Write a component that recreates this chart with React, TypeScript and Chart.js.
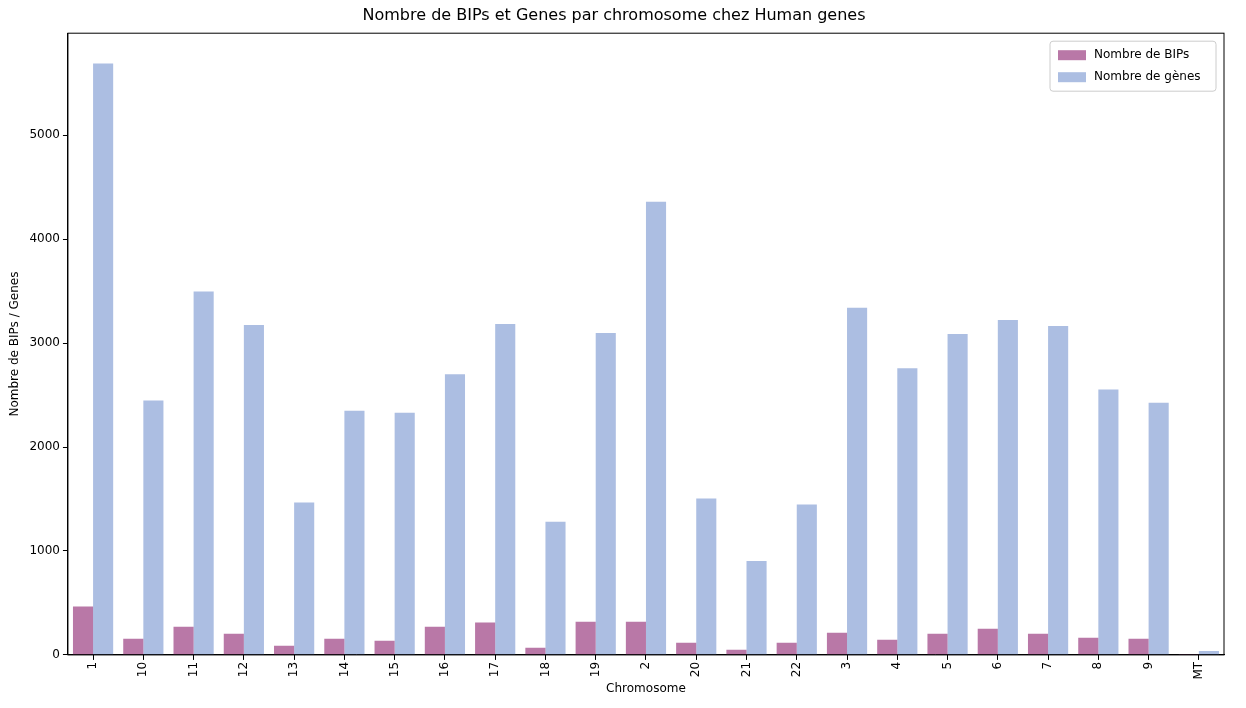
import { Chart, registerables } from 'chart.js';
import { useEffect, useRef } from 'react';

Chart.register(...registerables);

const chromosomes = ['1', '10', '11', '12', '13', '14', '15', '16', '17', '18', '19', '2', '20', '21', '22', '3', '4', '5', '6', '7', '8', '9', 'MT'];
const bips = [466, 155, 272, 204, 87, 155, 136, 272, 311, 68, 320, 320, 116, 49, 116, 214, 146, 204, 252, 204, 165, 155, 10];
const genes = [5690, 2447, 3495, 3175, 1466, 2350, 2330, 2700, 3184, 1282, 3097, 4359, 1505, 903, 1447, 3340, 2757, 3087, 3223, 3165, 2553, 2427, 37];
const yTicks = [0, 1000, 2000, 3000, 4000, 5000];

const frame = {
  id: 'frame',
  afterDraw(chart: any) {
    const { ctx, chartArea: a } = chart;
    ctx.save();
    ctx.strokeStyle = '#000';
    ctx.lineWidth = 1;
    ctx.strokeRect(a.left, a.top, a.right - a.left, a.bottom - a.top);
    // legend box, top right inside plot
    const w = 166, h = 50;
    const x = a.right - w - 8, y = a.top + 8;
    ctx.fillStyle = 'rgba(255,255,255,0.8)';
    ctx.strokeStyle = '#ccc';
    ctx.beginPath();
    ctx.roundRect(x, y, w, h, 3);
    ctx.fill();
    ctx.stroke();
    ctx.font = '12px "DejaVu Sans"';
    ctx.textBaseline = 'middle';
    chart.data.datasets.forEach((d: any, i: number) => {
      const yy = y + 14 + i * 22;
      ctx.fillStyle = d.backgroundColor;
      ctx.fillRect(x + 8, yy - 5, 28, 10);
      ctx.fillStyle = '#000';
      ctx.fillText(d.label, x + 44, yy);
    });
    ctx.restore();
  },
};

export default function App() {
  const ref = useRef<HTMLCanvasElement>(null);

  useEffect(() => {
    Chart.defaults.font.family = 'DejaVu Sans';
    Chart.defaults.color = '#000';
    const chart = new Chart(ref.current!, {
      type: 'bar',
      data: {
        labels: chromosomes,
        datasets: [
          { label: 'Nombre de BIPs', data: bips, backgroundColor: 'rgba(162,75,137,0.75)', categoryPercentage: 0.8, barPercentage: 1 },
          { label: 'Nombre de gènes', data: genes, backgroundColor: 'rgba(128,155,210,0.65)', categoryPercentage: 0.8, barPercentage: 1 },
        ],
      },
      options: {
        animation: false,
        responsive: false,
        layout: { padding: { left: 4, right: 22, top: 2, bottom: 12 } },
        plugins: {
          title: { display: true, text: 'Nombre de BIPs et Genes par chromosome chez Human genes', font: { size: 16, weight: 'normal' }, padding: { top: 4, bottom: 8 } },
          legend: { display: false },
          tooltip: { enabled: false },
        },
        scales: {
          x: {
            offset: true,
            grid: { display: true, drawOnChartArea: false, drawTicks: true, tickLength: 5, color: '#000', offset: false },
            border: { color: '#000' },
            ticks: { maxRotation: 90, minRotation: 90, font: { size: 12 }, padding: 2 },
            title: { display: true, text: 'Chromosome', font: { size: 12 }, padding: 0 },
          },
          y: {
            min: 0,
            max: 5981,
            grid: { display: true, drawOnChartArea: false, drawTicks: true, tickLength: 5, color: '#000' },
            border: { color: '#000' },
            afterBuildTicks: (s: any) => { s.ticks = yTicks.map((v) => ({ value: v })); },
            ticks: { font: { size: 12 }, callback: (v: any) => String(v) },
            title: { display: true, text: 'Nombre de BIPs / Genes', font: { size: 12 } },
          },
        },
      },
      plugins: [frame],
    });
    return () => chart.destroy();
  }, []);

  return (
    <div style={{ margin: -8 }}>
      <canvas ref={ref} width={1246} height={708} />
    </div>
  );
}
